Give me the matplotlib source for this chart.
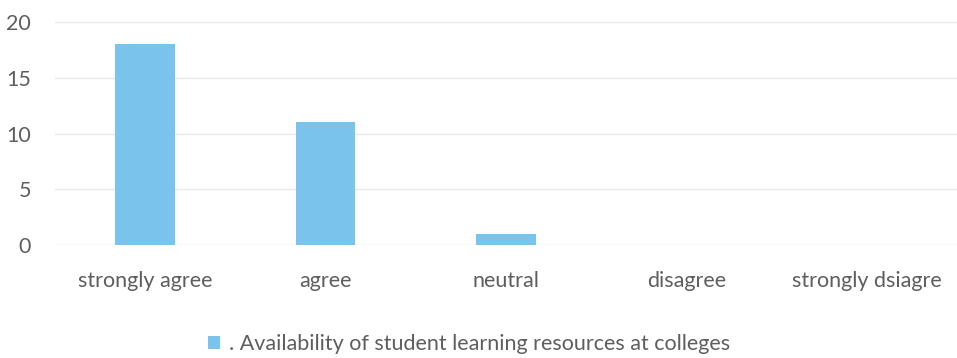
import matplotlib.pyplot as plt
from matplotlib.patches import Patch

# Survey responses
categories = ["strongly agree", "agree", "neutral", "disagree", "strongly dsiagre"]
counts = [18, 11, 1, 0, 0]
series_name = ". Availability of student learning resources at colleges"

bar_color = "#79C3EC"
text_color = "#5e5e5e"

plt.rcParams['font.family'] = ['Lato', 'DejaVu Sans']

fig = plt.figure(figsize=(9.57, 3.58), dpi=100)
ax = fig.add_axes([0.057, 0.316, 0.943, 0.622])

x = range(len(categories))
ax.bar(x, counts, width=0.33, color=bar_color, zorder=2)

ax.set_xlim(-0.5, len(categories) - 0.5)
ax.set_ylim(0, 20)
ax.set_yticks([0, 5, 10, 15, 20])
ax.set_xticks(list(x))
ax.set_xticklabels(categories)
ax.grid(axis="y", color="#e8e8e8", linewidth=1.0, zorder=0)

for side in ["top", "right", "left", "bottom"]:
    ax.spines[side].set_visible(False)
ax.tick_params(axis="both", length=0, labelsize=15.5, colors=text_color)
ax.tick_params(axis="x", pad=19)
ax.tick_params(axis="y", pad=17)

handle = Patch(facecolor=bar_color, edgecolor="none")
fig.legend([handle], [series_name], loc="center", bbox_to_anchor=(0.49, 0.04),
           frameon=False, fontsize=15.5, labelcolor=text_color,
           handlelength=0.55, handleheight=0.55, handletextpad=0.4)

fig.savefig("out.png", dpi=100)
